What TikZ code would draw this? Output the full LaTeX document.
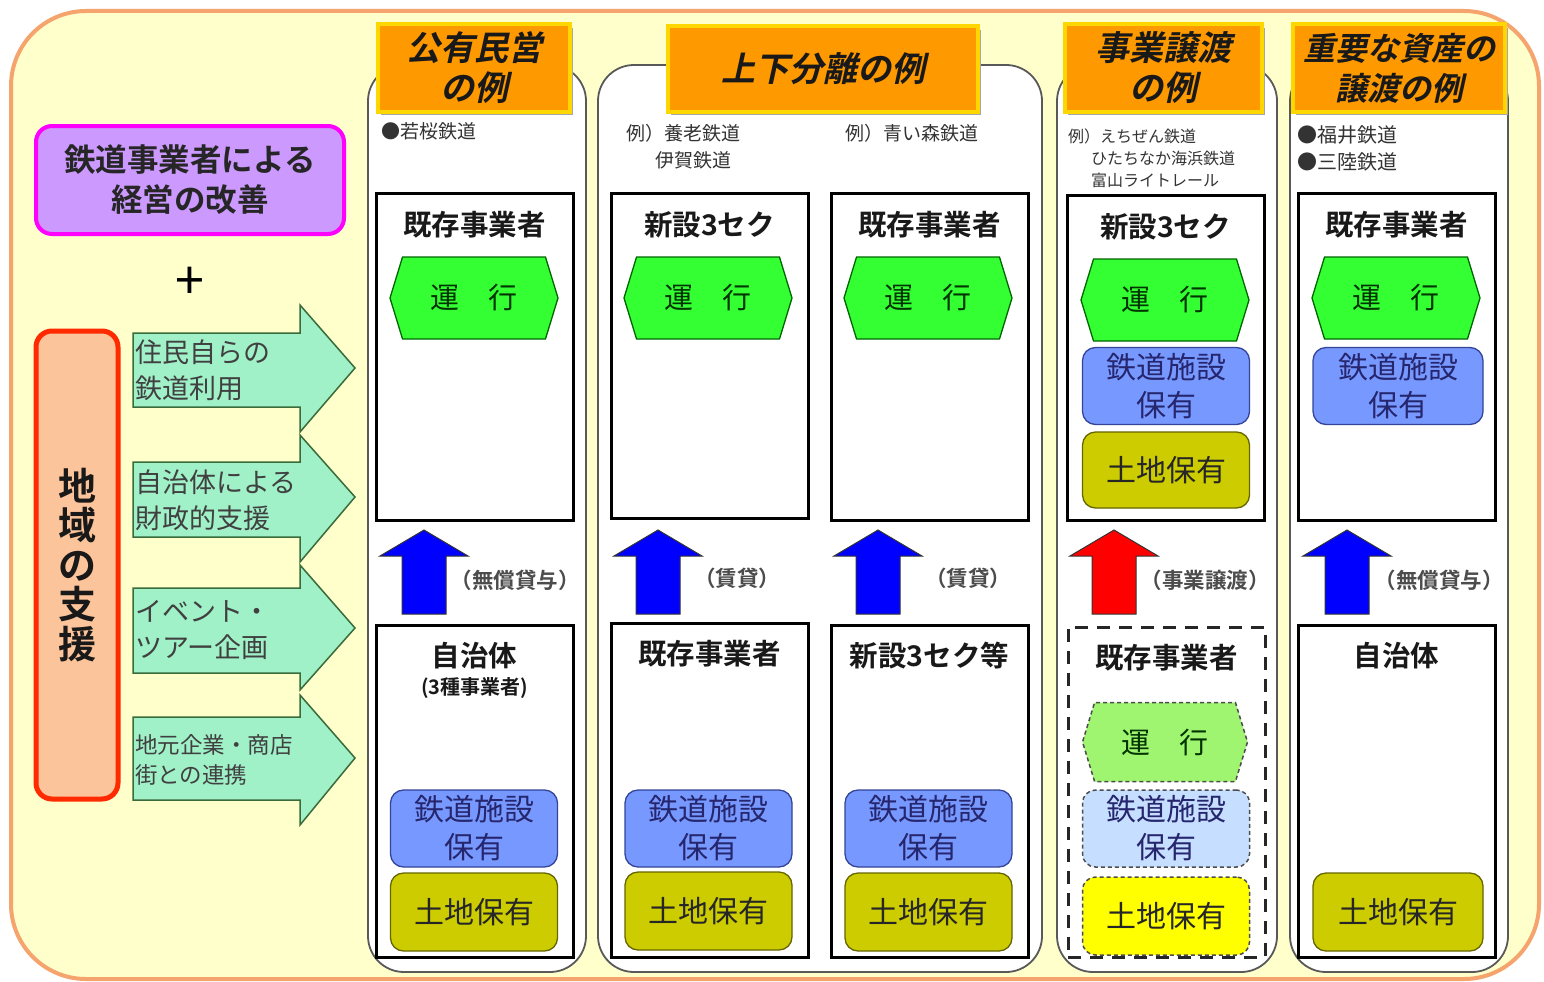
\documentclass[tikz,border=0pt]{standalone}
\usepackage{fontspec}
\setmainfont{Noto Sans CJK JP}[BoldFont={Noto Sans CJK JP Bold}]
\newfontfamily\hdrfont{Noto Sans CJK JP Bold}[FakeSlant=0.22]
\usetikzlibrary{shapes.symbols}
\definecolor{bgyellow}{HTML}{FFFFCC}
\definecolor{bgborder}{HTML}{F4A46C}
\definecolor{purplefill}{HTML}{CC99FF}
\definecolor{purpleline}{HTML}{FF00FF}
\definecolor{peach}{HTML}{FCC49A}
\definecolor{redline}{HTML}{FF2A00}
\definecolor{mint}{HTML}{A0F0C8}
\definecolor{mintline}{HTML}{3A6B3A}
\definecolor{hdrorange}{HTML}{FF9900}
\definecolor{hdrline}{HTML}{FFD700}
\definecolor{hexgreen}{HTML}{33FF33}
\definecolor{facblue}{HTML}{7799FF}
\definecolor{facline}{HTML}{334499}
\definecolor{landolive}{HTML}{CCCC00}
\definecolor{landline}{HTML}{666600}
\definecolor{lgreen}{HTML}{A0F570}
\definecolor{lblue}{HTML}{C6DEFF}
\definecolor{lyellow}{HTML}{FFFF00}
\definecolor{arrblue}{HTML}{0000FF}
\definecolor{arrred}{HTML}{FF0000}
\definecolor{txt}{HTML}{333333}
\tikzset{
  panel/.style={draw=black!65, line width=1.8pt, fill=white, rounded corners=36pt},
  hdr/.style={fill=hdrorange, draw=hdrline, line width=4pt, align=center, inner sep=0pt,
    font=\hdrfont\fontsize{34}{40}\selectfont, text=black!90},
  ubox/.style={draw=black, line width=3pt, fill=white, inner sep=0pt},
  dbox/.style={draw=black!85, line width=3pt, fill=white, inner sep=0pt, dash pattern=on 13pt off 9pt},
  ttl/.style={font=\bfseries\fontsize{28.5}{30}\selectfont, text=black!90, inner sep=0pt},
  small/.style={font=\fontsize{19}{24}\selectfont, text=txt, inner sep=0pt, align=left},
  hexa/.style={signal, signal to=west and east, signal pointer angle=146, fill=hexgreen,
    draw=black!60!green, line width=1.3pt, minimum width=168pt, minimum height=82pt,
    inner sep=0pt, font=\fontsize{29}{30}\selectfont, text=black!80!green},
  fac/.style={rounded corners=13pt, fill=facblue, draw=facline, line width=1.3pt,
    minimum width=167pt, minimum height=77pt, inner sep=0pt, align=center,
    font=\fontsize{30}{38}\selectfont, text=black!60!blue!70!gray},
  land/.style={rounded corners=13pt, fill=landolive, draw=landline, line width=1.3pt,
    minimum width=167pt, minimum height=78pt, inner sep=0pt,
    font=\fontsize{30}{30}\selectfont, text=black!85},
  dsh/.style={dash pattern=on 4pt off 3pt, draw=black!70, line width=1.5pt},
  barrow/.style={fill=arrblue, draw=black!80, line width=1pt},
  rarrow/.style={fill=arrred, draw=black!80, line width=1pt},
  lbl/.style={font=\bfseries\fontsize{21.5}{22}\selectfont, text=black!70, inner sep=0pt},
  garrow/.style={fill=mint, draw=mintline, line width=1.5pt},
  gtext/.style={font=\fontsize{27}{36}\selectfont, text=black!75, align=left, anchor=west, inner sep=0pt}
}
\begin{document}
\begin{tikzpicture}[x=1pt,y=-1pt]
\useasboundingbox (0,0) rectangle (1544,982);
\fill[white] (0,0) rectangle (1544,982);
\draw[line width=4pt, draw=bgborder, fill=bgyellow, rounded corners=75pt] (11,11) rectangle (1539,979);

% left side
\node[draw=purpleline, fill=purplefill, line width=4pt, rounded corners=16pt,
  minimum width=308pt, minimum height=108pt, align=center, inner sep=0pt,
  font=\bfseries\fontsize{31.5}{40}\selectfont, text=black!85] (kaizen) at (190,180)
  {鉄道事業者による\\経営の改善};
\node[font=\fontsize{52}{52}\selectfont, inner sep=0pt] (plus) at (190,283) {+};
\node[draw=redline, fill=peach, line width=5pt, rounded corners=16pt,
  minimum width=82pt, minimum height=468pt, inner sep=0pt, align=center,
  font=\bfseries\fontsize{38}{39.5}\selectfont, text=black!90] (shien) at (77,565)
  {地\\域\\の\\支\\援};

\draw[garrow] (133,333) -- (300,333) -- (300,305) -- (355,368) -- (300,432) -- (300,407) -- (133,407) -- cycle;
\draw[garrow] (133,462) -- (300,462) -- (300,435) -- (355,497) -- (300,562) -- (300,537) -- (133,537) -- cycle;
\draw[garrow] (133,588) -- (300,588) -- (300,565) -- (355,628) -- (300,690) -- (300,673) -- (133,673) -- cycle;
\draw[garrow] (133,717) -- (300,717) -- (300,695) -- (355,758) -- (300,825) -- (300,800) -- (133,800) -- cycle;
\node[gtext] (g1) at (135,370) {住民自らの\\鉄道利用};
\node[gtext] (g2) at (135,500) {自治体による\\財政的支援};
\node[gtext] (g3) at (135,630) {イベント・\\ツアー企画};
\node[gtext, font=\fontsize{22.5}{30}\selectfont] (g4) at (135,760) {地元企業・商店\\街との連携};

% panels
\draw[panel] (368,65) rectangle (586,972);
\draw[panel] (598,65) rectangle (1042,972);
\draw[panel] (1057,65) rectangle (1277,972);
\draw[panel] (1290,65) rectangle (1508,972);

% headers
\fill[black!35] (381,28) rectangle (573,115);
\node[hdr, minimum width=192pt, minimum height=87pt] (h1) at (474,68) {公有民営\\の例};
\fill[black!35] (671,30) rectangle (981,115);
\node[hdr, minimum width=310pt, minimum height=85pt] (h2) at (823,69) {上下分離の例};
\fill[black!35] (1068,28) rectangle (1265,115);
\node[hdr, minimum width=197pt, minimum height=87pt] (h3) at (1163,68) {事業譲渡\\の例};
\fill[black!35] (1296,28) rectangle (1508,115);
\node[hdr, minimum width=212pt, minimum height=87pt, font=\hdrfont\fontsize{32}{40}\selectfont] (h4) at (1399,68) {重要な資産の\\譲渡の例};

% small texts
\node[small, anchor=west] (ex1) at (381,131) {●若桜鉄道};
\node[small, anchor=west] (ex2) at (626,133) {例）養老鉄道};
\node[small, anchor=west] (ex2b) at (655,160) {伊賀鉄道};
\node[small, anchor=west] (ex3) at (845,133) {例）青い森鉄道};
\node[small, anchor=west, font=\fontsize{16}{22}\selectfont] (ex4) at (1068,136) {例）えちぜん鉄道};
\node[small, anchor=west, font=\fontsize{16}{22}\selectfont] (ex4b) at (1091,158) {ひたちなか海浜鉄道};
\node[small, anchor=west, font=\fontsize{16}{22}\selectfont] (ex4c) at (1091,180) {富山ライトレール};
\node[small, anchor=west, font=\fontsize{20}{24}\selectfont] (ex5) at (1297,135) {●福井鉄道};
\node[small, anchor=west, font=\fontsize{20}{24}\selectfont] (ex5b) at (1297,162) {●三陸鉄道};

% upper boxes
\node[ubox, minimum width=197pt, minimum height=327pt] (u1) at (474.5,356.5) {};
\node[ubox, minimum width=197pt, minimum height=325pt] (u2) at (709.5,355.5) {};
\node[ubox, minimum width=197pt, minimum height=327pt] (u3) at (929.5,356.5) {};
\node[ubox, minimum width=197pt, minimum height=325pt] (u4) at (1165.5,357.5) {};
\node[ubox, minimum width=197pt, minimum height=327pt] (u5) at (1396.5,356.5) {};
\node[ttl] (u1t) at (474.5,225) {既存事業者};
\node[ttl] (u2t) at (709.5,225) {新設3セク};
\node[ttl] (u3t) at (929.5,225) {既存事業者};
\node[ttl] (u4t) at (1165.5,227) {新設3セク};
\node[ttl] (u5t) at (1396.5,225) {既存事業者};
\node[hexa] (u1h) at (474,298) {運　行};
\node[hexa] (u2h) at (708,298) {運　行};
\node[hexa] (u3h) at (928,298) {運　行};
\node[hexa] (u4h) at (1165,300) {運　行};
\node[hexa] (u5h) at (1396,298) {運　行};
\node[fac] (u4f) at (1166,386) {鉄道施設\\保有};
\node[fac, minimum width=170pt] (u5f) at (1398,386) {鉄道施設\\保有};
\node[land, minimum height=76pt] (u4l) at (1166,470) {土地保有};

% lower boxes
\node[ubox, minimum width=197pt, minimum height=332pt] (l1) at (474.5,791) {};
\node[ubox, minimum width=197pt, minimum height=334pt] (l2) at (709.5,790) {};
\node[ubox, minimum width=197pt, minimum height=332pt] (l3) at (929.5,791) {};
\node[dbox, minimum width=197pt, minimum height=330pt] (l4) at (1166.5,792) {};
\node[ubox, minimum width=197pt, minimum height=332pt] (l5) at (1396.5,791) {};
\node[ttl] (l1t) at (474.5,656) {自治体};
\node[ttl, font=\bfseries\fontsize{20}{22}\selectfont] (l1s) at (474.5,688) {(3種事業者)};
\node[ttl] (l2t) at (709.5,654) {既存事業者};
\node[ttl] (l3t) at (929.5,656) {新設3セク等};
\node[ttl] (l4t) at (1166.5,658) {既存事業者};
\node[ttl] (l5t) at (1396.5,656) {自治体};
\node[fac] (l1f) at (474,828.5) {鉄道施設\\保有};
\node[fac] (l2f) at (708.5,828.5) {鉄道施設\\保有};
\node[fac] (l3f) at (928.5,828.5) {鉄道施設\\保有};
\node[land] (l1l) at (474,912) {土地保有};
\node[land] (l2l) at (708.5,911) {土地保有};
\node[land] (l3l) at (928.5,912) {土地保有};
\node[land, minimum width=170pt] (l5l) at (1398,912) {土地保有};
\node[hexa, dsh, fill=lgreen, minimum width=165pt, minimum height=79pt] (l4h) at (1165,742) {運　行};
\node[fac, dsh, fill=lblue] (l4f) at (1166,828.5) {鉄道施設\\保有};
\node[land, dsh, fill=lyellow] (l4l) at (1166,916) {土地保有};

% block arrows
\foreach \x/\s in {424/barrow, 658/barrow, 878/barrow, 1347/barrow, 1114/rarrow}{
  \draw[\s] (\x-22,614) -- (\x-22,556) -- (\x-44,556) -- (\x,530) -- (\x+44,556) -- (\x+22,556) -- (\x+22,614) -- cycle;
}
\node[lbl] (a1) at (515,580) {（無償貸与）};
\node[lbl] (a2) at (737,578) {（賃貸）};
\node[lbl] (a3) at (968,578) {（賃貸）};
\node[lbl] (a4) at (1205,580) {（事業譲渡）};
\node[lbl] (a5) at (1439,580) {（無償貸与）};
\end{tikzpicture}
\end{document}
